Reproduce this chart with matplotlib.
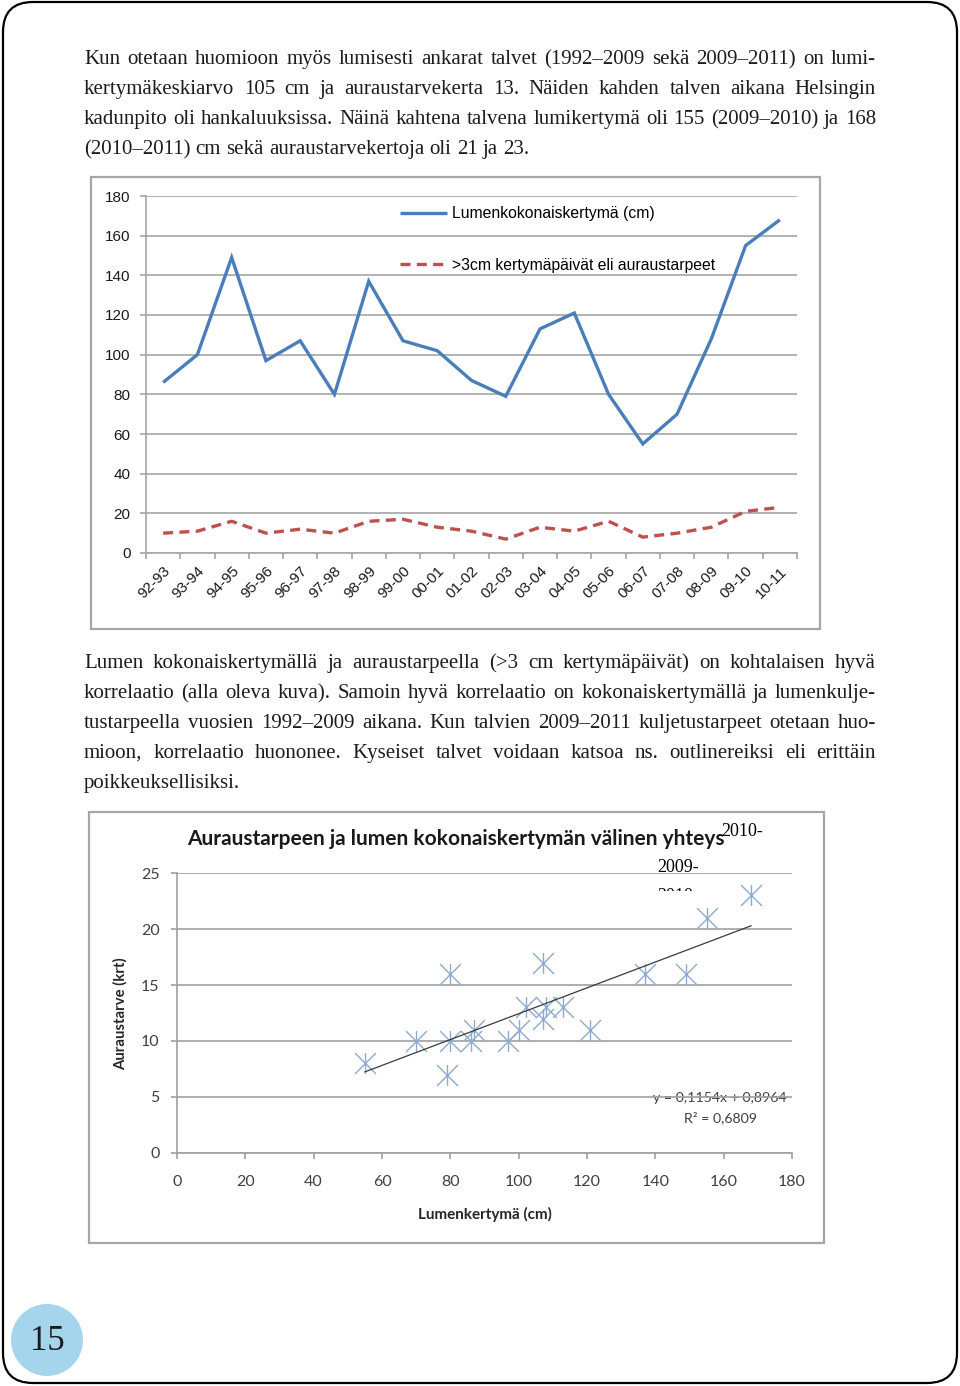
import matplotlib
matplotlib.use('Agg')
import matplotlib.pyplot as plt
import numpy as np
from matplotlib.patches import FancyBboxPatch, Rectangle, Circle
from matplotlib.path import Path
from matplotlib.transforms import Bbox

# ---------------- data ----------------
seasons = ['92-93', '93-94', '94-95', '95-96', '96-97', '97-98', '98-99', '99-00',
           '00-01', '01-02', '02-03', '03-04', '04-05', '05-06', '06-07', '07-08',
           '08-09', '09-10', '10-11']
snow_cm = [86, 100, 149, 97, 107, 80, 137, 107, 102, 87, 79, 113, 121, 80, 55, 70, 108, 155, 168]
plow_days = [10, 11, 16, 10, 12, 10, 16, 17, 13, 11, 7, 13, 11, 16, 8, 10, 13, 21, 23]
series1_label = 'Lumenkokonaiskertymä (cm)'
series2_label = '>3cm kertymäpäivät eli auraustarpeet'
y1_ticks = list(range(0, 181, 20))
x2_ticks = list(range(0, 181, 20))
y2_ticks = list(range(0, 26, 5))
trend_slope = 0.1154
trend_intercept = 0.8964
trend_r2 = 0.6809

scatter_title = 'Auraustarpeen ja lumen kokonaiskertymän välinen yhteys'
scatter_xlabel = 'Lumenkertymä (cm)'
scatter_ylabel = 'Auraustarve (krt)'

para1 = [
    "Kun otetaan huomioon myös lumisesti ankarat talvet (1992–2009 sekä 2009–2011) on lumi-",
    "kertymäkeskiarvo 105 cm ja auraustarvekerta 13. Näiden kahden talven aikana Helsingin",
    "kadunpito oli hankaluuksissa. Näinä kahtena talvena lumikertymä oli 155 (2009–2010) ja 168",
    "(2010–2011) cm sekä auraustarvekertoja oli 21 ja 23.",
]
para2 = [
    "Lumen kokonaiskertymällä ja auraustarpeella (>3 cm kertymäpäivät) on kohtalaisen hyvä",
    "korrelaatio (alla oleva kuva). Samoin hyvä korrelaatio on kokonaiskertymällä ja lumenkulje-",
    "tustarpeella vuosien 1992–2009 aikana. Kun talvien 2009–2011 kuljetustarpeet otetaan huo-",
    "mioon, korrelaatio huononee. Kyseiset talvet voidaan katsoa ns. outlinereiksi eli erittäin",
    "poikkeuksellisiksi.",
]
page_number = '15'

# ---------------- figure ----------------
W, H = 960, 1386
fig = plt.figure(figsize=(W / 100, H / 100), dpi=100)
fig.patch.set_facecolor('white')
bg = fig.add_axes([0, 0, 1, 1], zorder=0)
bg.set_xlim(0, W)
bg.set_ylim(H, 0)
bg.axis('off')
renderer = fig.canvas.get_renderer()

def width_of(t):
    return t.get_window_extent(renderer=renderer).width

def height_of(t):
    return t.get_window_extent(renderer=renderer).height

def fit_width(t, target):
    w = width_of(t)
    t.set_fontsize(t.get_fontsize() * target / w)

def fit_height(t, target):
    h = height_of(t)
    t.set_fontsize(t.get_fontsize() * target / h)

# page border
bg.add_patch(FancyBboxPatch((3, 2), 954, 1381, boxstyle='round,pad=0,rounding_size=30',
                            ec='black', fc='none', lw=1.6))

# justified body text; size chosen so the densest line fills the column
BODY = dict(family='Liberation Serif', fontsize=14.2, color='#1c1c1c')
_probe = bg.text(0, -100, para1[2], **BODY)
BODY['fontsize'] = BODY['fontsize'] * 788 / width_of(_probe)
_probe.remove()

def justified(lines, y0, x0=84, x1=876, lh=30):
    ta = bg.text(0, -100, 'a a', **BODY)
    tb = bg.text(0, -100, 'aa', **BODY)
    space = width_of(ta) - width_of(tb)
    ta.remove(); tb.remove()
    for i, line in enumerate(lines):
        y = y0 + i * lh
        words = line.split(' ')
        arts = [bg.text(0, y, w, ha='left', va='baseline', **BODY) for w in words]
        ws = [width_of(a) for a in arts]
        last = (i == len(lines) - 1)
        if last or len(words) == 1:
            gap = space
        else:
            gap = (x1 - x0 - sum(ws)) / (len(words) - 1)
        x = x0
        for a, w in zip(arts, ws):
            a.set_x(x)
            x += w + gap

justified(para1, 64)
justified(para2, 668)

# ---------------- chart 1: line chart ----------------
bg.add_patch(Rectangle((91, 177), 729, 452, ec='#a6a6a6', fc='none', lw=1.6))
ax1 = fig.add_axes([146 / W, 1 - 553 / H, (797 - 146) / W, (553 - 196) / H], zorder=2)
ax1.patch.set_alpha(0)
x = np.arange(len(seasons))
l1, = ax1.plot(x, snow_cm, color='#4a7ebb', lw=2.4, solid_joinstyle='miter',
               solid_capstyle='butt', label=series1_label)
l2, = ax1.plot(x, plow_days, color='#c0504d', lw=2.4, ls=(0, (3.0, 1.9)),
               dash_capstyle='butt', label=series2_label)
ax1.set_xlim(-0.5, len(seasons) - 0.5)
ax1.set_ylim(0, 180)
ax1.set_yticks(y1_ticks)
ax1.yaxis.grid(True, color='#a6a6a6', lw=1.2)
ax1.set_axisbelow(True)
ax1.set_xticks(x)
ax1.set_xticklabels(seasons, rotation=45, ha='right', va='top', rotation_mode='anchor')
ax1.set_xticks(np.arange(-0.5, len(seasons), 1), minor=True)
ax1.tick_params(axis='x', which='major', length=0, pad=8, labelsize=11)
ax1.tick_params(axis='x', which='minor', length=4.5, color='#a6a6a6', width=1.2)
ax1.tick_params(axis='y', length=4, color='#a6a6a6', width=1.2, pad=7, labelsize=11)
for s in ['top', 'right']:
    ax1.spines[s].set_visible(False)
for s in ['left', 'bottom']:
    ax1.spines[s].set_color('#a6a6a6')
    ax1.spines[s].set_linewidth(1.2)
for lab in ax1.get_xticklabels() + ax1.get_yticklabels():
    lab.set_family('Liberation Sans')
    lab.set_color('#1a1a1a')
ax1.legend(handles=[l1, l2], loc='upper left', bbox_to_anchor=(0.39, 0.972), frameon=False,
           borderpad=0, borderaxespad=0, handlelength=3.0, handletextpad=0.3,
           labelspacing=2.35, prop={'family': 'Liberation Sans', 'size': 11.3})

# ---------------- chart 2: scatter ----------------
bg.add_patch(Rectangle((89, 812), 735, 431, ec='#a6a6a6', fc='none', lw=1.6))
ax2 = fig.add_axes([177 / W, 1 - 1153 / H, (792 - 177) / W, (1153 - 873) / H], zorder=2)
ax2.patch.set_alpha(0)
star = Path([(-1, -1), (1, 1), (-1, 1), (1, -1), (0, -1), (0, 1)],
            [Path.MOVETO, Path.LINETO, Path.MOVETO, Path.LINETO, Path.MOVETO, Path.LINETO])
ax2.plot(snow_cm, plow_days, ls='none', marker=star, ms=15, mew=1.0,
         mec='#8eaacf', mfc='none', zorder=3)
xs = np.array([min(snow_cm), max(snow_cm)], dtype=float)
ax2.plot(xs, trend_slope * xs + trend_intercept, color='#3a3a3a', lw=0.9, zorder=4)
ax2.set_xlim(0, 180)
ax2.set_ylim(0, 25)
ax2.set_xticks(x2_ticks)
ax2.set_yticks(y2_ticks)
ax2.yaxis.grid(True, color='#a0a0a0', lw=1.2)
ax2.set_axisbelow(True)
ax2.tick_params(axis='x', length=4.5, color='#a0a0a0', width=1.2, pad=11, labelsize=11.5)
ax2.tick_params(axis='y', length=4.5, color='#a0a0a0', width=1.2, pad=8, labelsize=11.5)
for s in ['top', 'right']:
    ax2.spines[s].set_visible(False)
for s in ['left', 'bottom']:
    ax2.spines[s].set_color('#a0a0a0')
    ax2.spines[s].set_linewidth(1.2)
for lab in ax2.get_xticklabels() + ax2.get_yticklabels():
    lab.set_family('Lato')
    lab.set_color('#404040')

yl = ax2.set_ylabel(scatter_ylabel, family='Lato', weight='bold', fontsize=9, color='#262626')
fit_height(yl, 113)
ax2.yaxis.set_label_coords((128 - 177) / 615, 0.496)
xl = ax2.set_xlabel(scatter_xlabel, family='Lato', weight='bold', fontsize=9.5, color='#262626')
fit_width(xl, 135)
ax2.xaxis.set_label_coords((485 - 177) / 615, (1153 - 1207) / 280)

tt = bg.text(456, 839, scatter_title, ha='center', va='center', family='Lato',
             weight='bold', fontsize=14, color='#1a1a1a')
fit_width(tt, 540)

# overflowing data labels (the last one is cut off in the source chart)
LBL = dict(family='Liberation Serif', fontsize=13, color='black', ha='left')
bg.text(721, 832, '2010-', va='center', **LBL)
bg.text(657, 868, '2009-', va='center', **LBL)
clip_t = bg.text(657, 901, '2010', va='baseline', **LBL)
clip_t.set_clip_path(None)
clip_t.set_clip_box(Bbox.from_extents(640, H - 890.5, 720, H - 880))
clip_t.set_clip_on(True)

# trendline equation
eq1 = bg.text(720, 1098, f'y = {trend_slope:.4f}x + {trend_intercept:.4f}'.replace('.', ','),
              ha='center', va='center', family='Lato', fontsize=11, color='#404040')
fit_width(eq1, 134)
eq2 = bg.text(720, 1118, f'R² = {trend_r2:.4f}'.replace('.', ','),
              ha='center', va='center', family='Lato', fontsize=eq1.get_fontsize(), color='#404040')

# page number
bg.add_patch(Circle((47, 1340), 36, fc='#a5d5ec', ec='none'))
bg.text(47, 1341, page_number, ha='center', va='center', family='Liberation Serif',
        fontsize=25, color='#1a1a1a')

fig.savefig('out.png', dpi=100, facecolor='white')
